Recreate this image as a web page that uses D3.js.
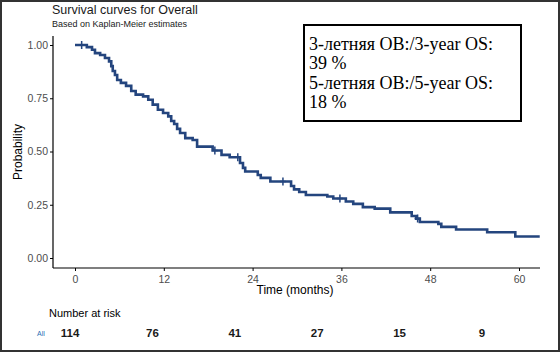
<!DOCTYPE html>
<html>
<head>
<meta charset="utf-8">
<script src="https://cdn.jsdelivr.net/npm/d3@7"></script>
<style>
  body { margin: 0; background: #fff; }
  svg { display: block; font-family: "Liberation Sans", Arial, sans-serif; }
  .tick text { fill: #4d4d4d; font-size: 10.5px; }
  .tick line, .domain { stroke: #000; }
</style>
</head>
<body>
<svg id="km"></svg>
<script>
// KM step points (time in months, survival)
const stepTimes = [0, 1.6, 2.3, 2.7, 3.4, 4.05, 4.6, 4.9, 5.1, 5.4, 5.7, 6.2, 6.9, 7.6, 8.2, 9.2, 9.9,
  10.5, 11.2, 11.9, 12.6, 13.0, 13.4, 13.8, 14.2, 14.9, 15.9, 16.5, 18.6, 19.8, 20.9, 22.3, 22.7,
  23.0, 24.7, 25.1, 26.4, 29.2, 29.6, 30.3, 31.2, 34.1, 34.9, 36.6, 37.6, 38.9, 40.5, 42.6, 45.5,
  46.1, 46.6, 49.1, 49.5, 51.5, 55.7, 59.5, 62.8];
const stepSurv = [1.0, 0.99, 0.978, 0.962, 0.953, 0.939, 0.923, 0.901, 0.878, 0.859, 0.836, 0.822,
  0.808, 0.784, 0.767, 0.759, 0.743, 0.720, 0.696, 0.681, 0.665, 0.643, 0.629, 0.606, 0.587, 0.563,
  0.554, 0.523, 0.505, 0.484, 0.473, 0.446, 0.423, 0.406, 0.390, 0.376, 0.359, 0.338, 0.322, 0.310,
  0.296, 0.289, 0.279, 0.265, 0.254, 0.239, 0.232, 0.214, 0.197, 0.185, 0.169, 0.160, 0.146, 0.134,
  0.121, 0.101, 0.101];
const censorTimes = [0.9, 18.9, 22.0, 28.1, 35.8, 46.3];

const xTicks = [0, 12, 24, 36, 48, 60];
const yTicks = [0, 0.25, 0.5, 0.75, 1];

const riskTimes = [0, 12, 24, 36, 48, 60];
const riskCounts = [114, 76, 41, 27, 15, 9];

const boxLines = ['3-летняя OB:/3-year OS:', '39 %', '5-летняя OB:/5-year OS:', '18 %'];

const width = 560;
const height = 352;
const svg = d3.select('#km').attr('width', width).attr('height', height);

// frame
svg.append('rect')
  .attr('x', 1).attr('y', 1)
  .attr('width', width - 2).attr('height', height - 2)
  .attr('fill', 'none')
  .attr('stroke', '#333')
  .attr('stroke-width', 2);

const x = d3.scaleLinear().domain([0, 60]).range([75, 519]);
const y = d3.scaleLinear().domain([0, 1]).range([258, 45]);

// titles
svg.append('text')
  .attr('x', 52).attr('y', 14)
  .attr('font-size', 12.5)
  .attr('fill', '#1a1a1a')
  .text('Survival curves for Overall');
svg.append('text')
  .attr('x', 52).attr('y', 27)
  .attr('font-size', 9)
  .attr('fill', '#1a1a1a')
  .text('Based on Kaplan-Meier estimates');

// axes
const xAxis = d3.axisBottom(x).tickValues(xTicks).tickSize(3).tickSizeOuter(0);
const yAxis = d3.axisLeft(y).tickValues(yTicks).tickSize(3).tickSizeOuter(0)
  .tickFormat(d3.format('.2f'));

const gx = svg.append('g')
  .attr('transform', 'translate(0, 268)')
  .call(xAxis);
gx.select('.domain').attr('d', `M53,0H540`).attr('stroke-width', 1.2);
gx.selectAll('.tick text').attr('dy', '0.9em');

const gy = svg.append('g')
  .attr('transform', 'translate(53, 0)')
  .call(yAxis);
gy.select('.domain').attr('d', `M0,36V268`).attr('stroke-width', 1.2);
gy.selectAll('.tick text').attr('x', -5);

svg.append('text')
  .attr('x', 295).attr('y', 294)
  .attr('text-anchor', 'middle')
  .attr('font-size', 12)
  .attr('fill', '#000')
  .text('Time (months)');
svg.append('text')
  .attr('transform', 'translate(22, 152) rotate(-90)')
  .attr('text-anchor', 'middle')
  .attr('font-size', 12)
  .attr('fill', '#000')
  .text('Probability');

// survival curve
const pts = stepTimes.map((t, i) => [t, stepSurv[i]]);
const line = d3.line()
  .x(d => x(d[0]))
  .y(d => y(d[1]))
  .curve(d3.curveStepAfter);
svg.append('path')
  .datum(pts)
  .attr('d', line)
  .attr('fill', 'none')
  .attr('stroke', '#24457e')
  .attr('stroke-width', 2.6);

// censor marks
const survAt = t => {
  let s = 1;
  stepTimes.forEach((st, i) => { if (st <= t) s = stepSurv[i]; });
  return s;
};
svg.selectAll('.censor')
  .data(censorTimes)
  .enter().append('path')
    .attr('class', 'censor')
    .attr('d', d => `M${x(d)},${y(survAt(d)) - 4}V${y(survAt(d)) + 4}M${x(d) - 3},${y(survAt(d))}H${x(d) + 3}`)
    .attr('stroke', '#24457e')
    .attr('stroke-width', 1.5);

// annotation box
svg.append('rect')
  .attr('x', 304).attr('y', 25)
  .attr('width', 217).attr('height', 96)
  .attr('fill', '#fff')
  .attr('stroke', '#000')
  .attr('stroke-width', 2);
svg.selectAll('.box-line')
  .data(boxLines)
  .enter().append('text')
    .attr('class', 'box-line')
    .attr('x', 309)
    .attr('y', (d, i) => 50 + i * 19.3)
    .attr('font-family', '"Liberation Serif", "Times New Roman", serif')
    .attr('font-size', 18)
    .attr('fill', '#000')
    .text(d => d);

// risk table
const xr = d3.scaleLinear().domain([0, 60]).range([70, 482]);
svg.append('text')
  .attr('x', 49).attr('y', 317)
  .attr('font-size', 11)
  .attr('fill', '#000')
  .text('Number at risk');
svg.append('text')
  .attr('x', 37).attr('y', 336)
  .attr('font-size', 7)
  .attr('fill', '#2a6fb5')
  .text('All');
svg.selectAll('.risk')
  .data(riskCounts)
  .enter().append('text')
    .attr('class', 'risk')
    .attr('x', (d, i) => xr(riskTimes[i]))
    .attr('y', 337)
    .attr('text-anchor', 'middle')
    .attr('font-size', 11.5)
    .attr('font-weight', 'bold')
    .attr('fill', '#1a1a1a')
    .text(d => d);
</script>
</body>
</html>
